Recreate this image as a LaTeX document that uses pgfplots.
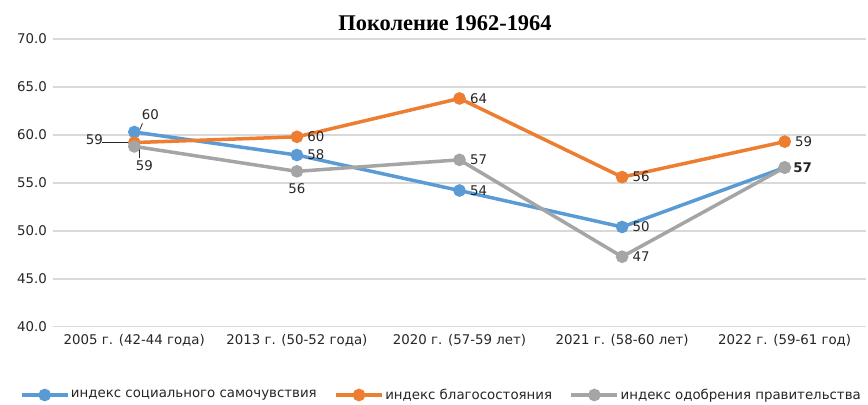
\documentclass[border=0pt]{standalone}
\usepackage{pgfplots}
\pgfplotsset{compat=1.18}
\usepackage{fontspec}
\setmainfont{DejaVu Sans}
\newfontfamily\titlefont{Liberation Serif}
\definecolor{cblue}{HTML}{5B9BD5}
\definecolor{corange}{HTML}{ED7D31}
\definecolor{cgray}{HTML}{A5A5A5}
\definecolor{cgrid}{HTML}{D9D9D9}
\definecolor{ctext}{HTML}{262626}
\begin{document}
\begin{tikzpicture}[x=1bp,y=1bp]
\useasboundingbox (0,0) rectangle (868,404);
\node[font=\titlefont\bfseries\fontsize{22.5}{26}\selectfont, text=black] at (445,381) {Поколение 1962-1964};
\begin{axis}[
  at={(53bp,77.3bp)}, anchor=south west,
  scale only axis, width=813bp, height=287.7bp,
  xmin=-0.5, xmax=4.5, ymin=40, ymax=70,
  ytick={40,45,...,70},
  xtick={0,1,2,3,4},
  xticklabels={2005 г. (42-44 года),2013 г. (50-52 года),2020 г. (57-59 лет),2021 г. (58-60 лет),2022 г. (59-61 год)},
  axis line style={draw=none},
  tick style={draw=none},
  ymajorgrids,
  major grid style={cgrid, line width=1.5bp},
  /pgf/number format/.cd, fixed, fixed zerofill, precision=1, assume math mode=true,
  /pgfplots/.cd,
  yticklabel style={inner sep=0pt, xshift=-6bp, font=\fontsize{13.4}{15}\selectfont, text=ctext},
  xticklabel style={inner sep=0pt, yshift=-7bp, font=\fontsize{13.4}{15}\selectfont, text=ctext},
  clip=false,
  point meta=explicit symbolic,
  nodes near coords,
  visualization depends on={value \thisrow{xs}\as\myxs},
  visualization depends on={value \thisrow{ys}\as\myys},
  every node near coord/.append style={anchor=center, xshift=\myxs bp, yshift=\myys bp, font=\fontsize{13.4}{15}\selectfont, text=ctext, inner sep=0pt},
  legend style={at={(-0.0406,-0.2374)}, anchor=west, draw=none, inner sep=0pt, outer sep=0pt,
    font=\fontsize{13.4}{15}\selectfont, text=ctext,
    nodes={inner sep=1.5bp},
    /tikz/every even column/.append style={column sep=16bp}},
  legend columns=3,
  legend image code/.code={\draw[mark repeat=2,mark phase=2] plot coordinates {(0bp,0bp)(23bp,0bp)(46bp,0bp)};},
]
\addplot[cblue, line width=3.5bp, mark=*, mark size=4.5bp, mark options={solid}] table[x=x,y=y,meta=lab] {
x y lab xs ys
0 60.3 60 16 17
1 57.9 58 19 0
2 54.2 54 19 0
3 50.4 50 19 0
4 56.6 {} 0 0
};
\addlegendentry{индекс социального самочувствия}
\addplot[corange, line width=3.5bp, mark=*, mark size=4.5bp, mark options={solid}] table[x=x,y=y,meta=lab] {
x y lab xs ys
0 59.2 59 -40 3
1 59.8 60 19 0
2 63.8 64 19 0
3 55.6 56 19 0
4 59.3 59 19 0
};
\addlegendentry{индекс благосостояния}
\addplot[cgray, line width=3.5bp, mark=*, mark size=4.5bp, mark options={solid}] table[x=x,y=y,meta=lab] {
x y lab xs ys
0 58.8 59 10 -19
1 56.2 56 0 -17
2 57.4 57 19 0
3 47.3 47 19 0
4 56.6 \textbf{57} 18 0
};
\addlegendentry{индекс одобрения правительства}
\draw[ctext, line width=0.8bp] (axis cs:-0.199,59.25) -- (axis cs:0.035,59.25);
\draw[ctext, line width=0.8bp] (axis cs:0.029,58.8) -- (axis cs:0.029,57.6);
\draw[ctext, line width=0.8bp] (axis cs:0.03,60.4) -- (axis cs:0.05,61.2);
\end{axis}
\end{tikzpicture}
\end{document}
